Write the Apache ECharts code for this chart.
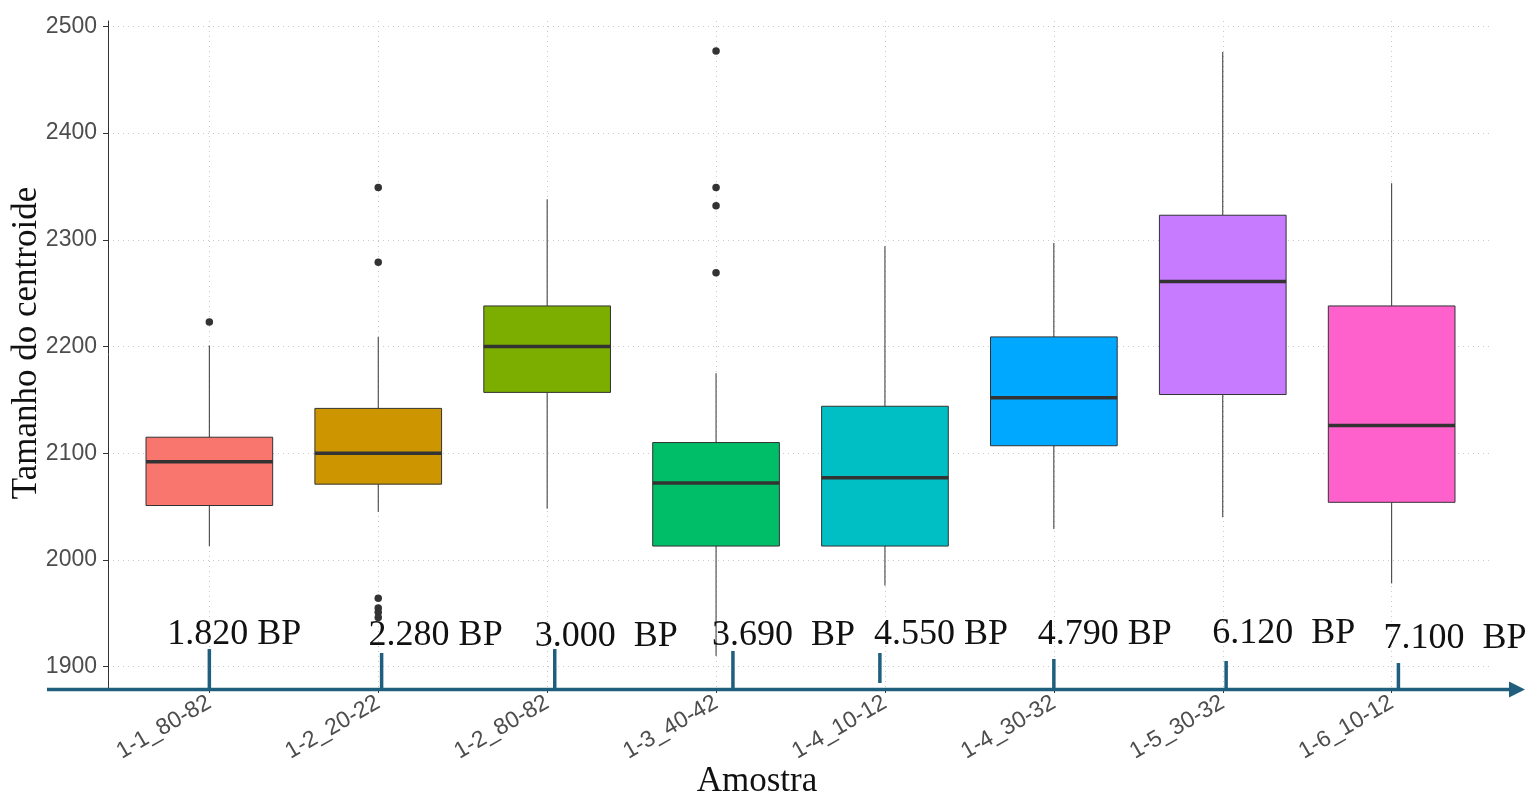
<!DOCTYPE html>
<html>
<head>
    <meta charset="UTF-8">
    <title>Tamanho do centroide</title>
    <script src="https://cdn.jsdelivr.net/npm/echarts@6/dist/echarts.min.js"></script>
    <style>
        body { margin: 0; padding: 0; background: #fff; }
        #echart { width: 1533px; height: 798px; }
    </style>
</head>
<body>
<div id="echart"></div>
<script>
    // amostras
    const categories = ['1-1_80-82', '1-2_20-22', '1-2_80-82', '1-3_40-42', '1-4_10-12', '1-4_30-32', '1-5_30-32', '1-6_10-12'];
    const boxColors = ['#F8766D', '#CD9600', '#7CAE00', '#00BE67', '#00BFC4', '#00A9FF', '#C77CFF', '#FF61CC'];

    // boxplot stats
    const lowerWhisker = [2013, 2045, 2048, 1910, 1976, 2029, 2040, 1978];
    const q1 = [2051, 2071, 2157, 2013, 2013, 2107, 2155, 2054];
    const median = [2092, 2100, 2200, 2072, 2077, 2152, 2261, 2126];
    const q3 = [2115, 2142, 2238, 2110, 2144, 2209, 2323, 2238];
    const upperWhisker = [2201, 2209, 2338, 2175, 2294, 2297, 2476, 2353];

    // outliers: [category index, value]
    const outliers = [
        [0, 2223],
        [1, 2349], [1, 2279], [1, 1964], [1, 1955], [1, 1951], [1, 1946],
        [3, 2477], [3, 2349], [3, 2332], [3, 2269]
    ];

    const yTicks = [1900, 2000, 2100, 2200, 2300, 2400, 2500];

    // datacoes BP on the time arrow
    const bpLabels = ['1.820 BP', '2.280 BP', '3.000  BP', '3.690  BP', '4.550 BP', '4.790 BP', '6.120  BP', '7.100  BP'];
    const bpPos = [1.0, 2.02, 3.045, 4.1, 4.97, 6.0, 7.02, 8.04];
    const bpTop = [1916.5, 1912.8, 1916.5, 1914.7, 1912.8, 1907.2, 1905.3, 1903.4];
    const bpBottom = [1880, 1880, 1880, 1880, 1884.7, 1880, 1880, 1880];

    // label placement (px, relative to tick top)
    const bpLabelDx = [-42, -13, -20, -21, -6, -16, -14, -15];
    const bpLabelDy = [-15, -17, -13, -15, -18, -24, -27, -24];

    const yMin = 1880, yMax = 2505;
    const xMin = 0.4, xMax = 8.6;
    const arrowColor = '#1f5f7d';
    const gridColor = '#c9c9c9';

    function renderBox(params, api) {
        const x = api.value(0);
        const w = api.size([0.75, 0])[0];
        const low = api.coord([x, api.value(1)]);
        const lo = api.coord([x, api.value(2)]);
        const mid = api.coord([x, api.value(3)]);
        const hi = api.coord([x, api.value(4)]);
        const high = api.coord([x, api.value(5)]);
        const cx = mid[0];
        const whisker = { stroke: '#333', lineWidth: 1 };
        return {
            type: 'group',
            children: [
                { type: 'line', shape: { x1: cx, y1: high[1], x2: cx, y2: hi[1] }, style: whisker },
                { type: 'line', shape: { x1: cx, y1: lo[1], x2: cx, y2: low[1] }, style: whisker },
                {
                    type: 'rect',
                    shape: { x: cx - w / 2, y: hi[1], width: w, height: lo[1] - hi[1] },
                    style: { fill: boxColors[params.dataIndex], stroke: '#333', lineWidth: 1 }
                },
                {
                    type: 'line',
                    shape: { x1: cx - w / 2, y1: mid[1], x2: cx + w / 2, y2: mid[1] },
                    style: { stroke: '#333', lineWidth: 3.5 }
                }
            ]
        };
    }

    function renderBP(params, api) {
        const i = params.dataIndex;
        const top = api.coord([api.value(0), api.value(1)]);
        const bottom = api.coord([api.value(0), api.value(2)]);
        return {
            type: 'group',
            children: [
                {
                    type: 'line',
                    shape: { x1: top[0], y1: top[1], x2: bottom[0], y2: bottom[1] },
                    style: { stroke: arrowColor, lineWidth: 3.5 }
                },
                {
                    type: 'text',
                    x: top[0] + bpLabelDx[i],
                    y: top[1] + bpLabelDy[i],
                    style: {
                        text: bpLabels[i],
                        font: '36px "Liberation Serif", "Times New Roman", serif',
                        fill: '#111',
                        align: 'left',
                        verticalAlign: 'middle'
                    }
                }
            ]
        };
    }

    function renderArrow(params, api) {
        const start = api.coord([api.value(0), api.value(1)]);
        const end = api.coord([api.value(2), api.value(1)]);
        const y = start[1] + 1.5;
        const x0 = start[0] - 61;
        const tip = end[0] + 32;
        return {
            type: 'group',
            children: [
                { type: 'line', shape: { x1: x0, y1: y, x2: tip - 12, y2: y }, style: { stroke: arrowColor, lineWidth: 3.5 } },
                {
                    type: 'polygon',
                    shape: { points: [[tip, y], [tip - 16, y - 8], [tip - 16, y + 8]] },
                    style: { fill: arrowColor }
                }
            ]
        };
    }

    const chart = echarts.init(document.getElementById('echart'));
    const option = {
        backgroundColor: '#fff',
        animation: false,
        grid: { left: 108, right: 40, top: 21, bottom: 110 },
        xAxis: {
            type: 'value',
            min: xMin,
            max: xMax,
            axisLine: { show: false },
            axisTick: {
                show: true,
                customValues: categories.map((_, i) => i + 1),
                length: 5,
                lineStyle: { color: '#333' }
            },
            axisLabel: {
                customValues: categories.map((_, i) => i + 1),
                formatter: v => categories[Math.round(v) - 1] || '',
                rotate: 30,
                margin: 13,
                fontSize: 23,
                color: '#4d4d4d',
                fontFamily: '"Liberation Sans", Arial, sans-serif'
            },
            splitLine: { show: true, lineStyle: { color: gridColor, type: [1, 4], width: 1 } }
        },
        yAxis: {
            type: 'value',
            min: yMin,
            max: yMax,
            axisLine: { show: true, lineStyle: { color: '#333', width: 1 } },
            axisTick: { show: true, customValues: yTicks, length: 5, lineStyle: { color: '#333' } },
            axisLabel: {
                customValues: yTicks,
                formatter: v => String(v),
                margin: 11,
                fontSize: 23,
                color: '#4d4d4d',
                fontFamily: '"Liberation Sans", Arial, sans-serif'
            },
            splitLine: { show: true, lineStyle: { color: gridColor, type: [1, 4], width: 1 } }
        },
        graphic: [
            {
                type: 'text',
                x: 27,
                y: 343,
                rotation: Math.PI / 2,
                style: {
                    text: 'Tamanho do centroide',
                    font: '35px "Liberation Serif", "Times New Roman", serif',
                    fill: '#111',
                    align: 'center',
                    verticalAlign: 'middle'
                }
            },
            {
                type: 'text',
                x: 757,
                y: 782,
                style: {
                    text: 'Amostra',
                    font: '35px "Liberation Serif", "Times New Roman", serif',
                    fill: '#111',
                    align: 'center',
                    verticalAlign: 'middle'
                }
            }
        ],
        series: [
            {
                name: 'box',
                type: 'custom',
                renderItem: renderBox,
                encode: { x: 0, y: [1, 2, 3, 4, 5] },
                data: categories.map((_, i) => [i + 1, lowerWhisker[i], q1[i], median[i], q3[i], upperWhisker[i]]),
                z: 2
            },
            {
                name: 'outliers',
                type: 'scatter',
                symbol: 'circle',
                symbolSize: 7.5,
                itemStyle: { color: '#333', opacity: 1 },
                data: outliers.map(d => [d[0] + 1, d[1]]),
                z: 3
            },
            {
                name: 'arrow',
                type: 'custom',
                renderItem: renderArrow,
                clip: false,
                encode: { x: [0, 2], y: 1 },
                data: [[xMin, yMin, xMax]],
                z: 4
            },
            {
                name: 'bp',
                type: 'custom',
                renderItem: renderBP,
                clip: false,
                encode: { x: 0, y: [1, 2] },
                data: bpPos.map((p, i) => [p, bpTop[i], bpBottom[i]]),
                z: 5
            }
        ]
    };
    chart.setOption(option);
</script>
</body>
</html>
